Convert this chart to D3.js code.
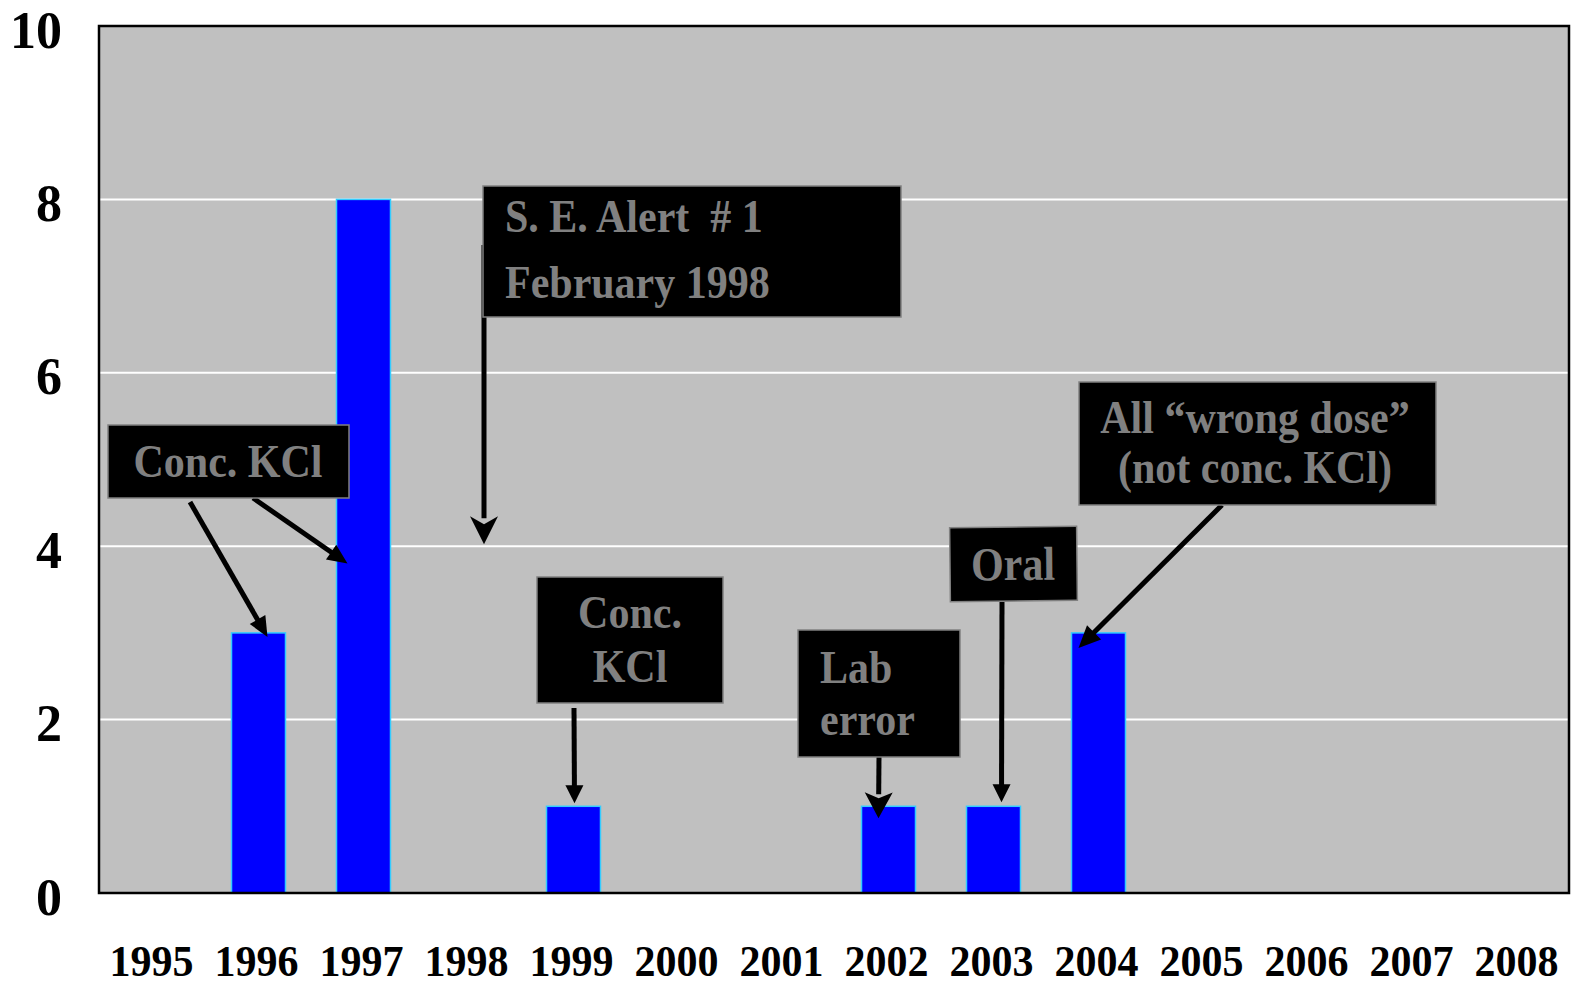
<!DOCTYPE html>
<html>
<head>
<meta charset="utf-8">
<script src="https://cdn.jsdelivr.net/npm/d3@7/dist/d3.min.js"></script>
<style>
    body { margin: 0; background: #fff; }
    text { font-family: "Liberation Serif", "Times New Roman", serif; font-weight: bold; }
</style>
</head>
<body>
<div id="chart"></div>
<script>
const years = ["1995", "1996", "1997", "1998", "1999", "2000", "2001",
               "2002", "2003", "2004", "2005", "2006", "2007", "2008"];
const counts = [0, 3, 8, 0, 1, 0, 0, 1, 1, 3, 0, 0, 0, 0];
const yTicks = [0, 2, 4, 6, 8, 10];

function drawChart() {
    const width = 1575;
    const height = 986;
    const plot = { left: 99, right: 1569, top: 26, bottom: 893 };
    const stretch = "scale(1,1.13)"; // text in the original is a bit tall

    const svg = d3.select("#chart").append("svg")
        .attr("width", width)
        .attr("height", height);

    const x = d3.scaleBand()
        .domain(years)
        .range([plot.left, plot.right])
        .paddingInner(0.486)
        .paddingOuter(0.243);

    const y = d3.scaleLinear()
        .domain([0, 10])
        .range([plot.bottom, plot.top]);

    const barX = d => x(d) + 2;
    const barMid = d => barX(d) + x.bandwidth() / 2;

    svg.append("rect")
        .attr("x", plot.left)
        .attr("y", plot.top)
        .attr("width", plot.right - plot.left)
        .attr("height", plot.bottom - plot.top)
        .attr("fill", "#c0c0c0");

    svg.append("g").selectAll("line")
        .data(yTicks.filter(t => t > 0 && t < 10))
        .enter().append("line")
        .attr("x1", plot.left)
        .attr("x2", plot.right)
        .attr("y1", d => y(d))
        .attr("y2", d => y(d))
        .attr("stroke", "#fff")
        .attr("stroke-width", 2);

    const data = years.map((yr, i) => ({ year: yr, value: counts[i] }));

    svg.append("g").selectAll("rect")
        .data(data.filter(d => d.value > 0))
        .enter().append("rect")
        .attr("x", d => barX(d.year))
        .attr("y", d => y(d.value))
        .attr("width", x.bandwidth())
        .attr("height", d => y(0) - y(d.value))
        .attr("fill", "#0000ff")
        .attr("stroke", "#33ccff")
        .attr("stroke-width", 1.5);

    svg.append("rect")
        .attr("x", plot.left)
        .attr("y", plot.top)
        .attr("width", plot.right - plot.left)
        .attr("height", plot.bottom - plot.top)
        .attr("fill", "none")
        .attr("stroke", "#000")
        .attr("stroke-width", 2.5);

    // axes, only the labels are kept
    const yAxis = svg.append("g")
        .attr("transform", "translate(62,0)")
        .call(d3.axisLeft(y).tickValues(yTicks).tickSize(0).tickPadding(0));
    yAxis.select(".domain").remove();
    yAxis.selectAll("text")
        .attr("x", 0).attr("y", 0).attr("dy", null)
        .attr("text-anchor", "end")
        .attr("transform", "translate(0,21)")
        .attr("fill", "#000")
        .style("font-size", "52px");

    const xAxis = svg.append("g")
        .attr("transform", "translate(0,976)")
        .call(d3.axisBottom(x).tickSize(0).tickPadding(0));
    xAxis.select(".domain").remove();
    xAxis.selectAll("text")
        .attr("x", 0).attr("y", 0).attr("dy", null)
        .attr("text-anchor", "middle")
        .attr("transform", "scale(1,1.05)")
        .attr("fill", "#000")
        .style("font-size", "42px");

    // annotation arrows, tips anchored to the bars
    const arrows = [
        { from: [190, 502], to: [barMid("1996") + 9, y(3) + 4], head: 20, wide: 18 },
        { from: [253, 498], to: [barX("1997") + 11, y(3.8)], head: 20, wide: 18 },
        { from: [484, 245], to: [484, y(4) - 2], head: 28, wide: 28, notch: 8 },
        { from: [574, 708], to: [barMid("1999") + 1, y(1) - 3], head: 18, wide: 18 },
        { from: [879, 757], to: [barMid("2002") - 10, y(1) + 12], head: 26, wide: 28, notch: 6 },
        { from: [1002, 602], to: [barMid("2003") + 8, y(1) - 4], head: 18, wide: 18 },
        { from: [1222, 505], to: [barX("2004") + 7, y(3) + 15], head: 22, wide: 20 }
    ];

    const ag = svg.append("g");
    arrows.forEach(a => {
        const [x1, y1] = a.from;
        const [x2, y2] = a.to;
        const len = Math.hypot(x2 - x1, y2 - y1);
        const ux = (x2 - x1) / len, uy = (y2 - y1) / len;
        const bx = x2 - ux * a.head, by = y2 - uy * a.head;
        const notch = a.notch || 0;
        ag.append("line")
            .attr("x1", x1).attr("y1", y1)
            .attr("x2", bx + ux * 2).attr("y2", by + uy * 2)
            .attr("stroke", "#000")
            .attr("stroke-width", 5);
        const hw = a.wide / 2;
        const pts = [
            [x2, y2],
            [bx - uy * hw, by + ux * hw],
            [bx + ux * notch, by + uy * notch],
            [bx + uy * hw, by - ux * hw]
        ];
        ag.append("path")
            .attr("d", "M" + pts.map(p => p.join(",")).join("L") + "Z")
            .attr("fill", "#000");
    });

    const boxes = [
        { x: 108, y: 425, w: 241, h: 73, anchor: "middle", tx: 228, lines: ["Conc. KCl"], base: [477] },
        { x: 483, y: 186, w: 418, h: 131, anchor: "start", tx: 505, lines: ["S. E. Alert  # 1", "February 1998"], base: [232, 298] },
        { x: 537, y: 577, w: 186, h: 126, anchor: "middle", tx: 630, lines: ["Conc.", "KCl"], base: [628, 682] },
        { x: 798, y: 630, w: 162, h: 127, anchor: "start", tx: 820, lines: ["Lab", "error"], base: [683, 735] },
        { x: 950, y: 527, w: 127, h: 74, anchor: "middle", tx: 1013, lines: ["Oral"], base: [580], rot: -0.6 },
        { x: 1079, y: 382, w: 357, h: 123, anchor: "middle", tx: 1255, lines: ["All \u201cwrong dose\u201d", "(not conc. KCl)"], base: [433, 483] }
    ];

    boxes.forEach(b => {
        const g = svg.append("g");
        if (b.rot) g.attr("transform", `rotate(${b.rot},${b.x + b.w / 2},${b.y + b.h / 2})`);
        g.append("rect")
            .attr("x", b.x).attr("y", b.y)
            .attr("width", b.w).attr("height", b.h)
            .attr("fill", "#000")
            .attr("stroke", "#808080")
            .attr("stroke-width", 1.5);
        b.lines.forEach((t, i) => {
            g.append("text")
                .attr("transform", `translate(${b.tx},${b.base[i]}) ${stretch}`)
                .attr("text-anchor", b.anchor)
                .attr("fill", "#808080")
                .style("font-size", "42px")
                .style("white-space", "pre")
                .text(t);
        });
    });
}

document.addEventListener('DOMContentLoaded', drawChart);
</script>
</body>
</html>
